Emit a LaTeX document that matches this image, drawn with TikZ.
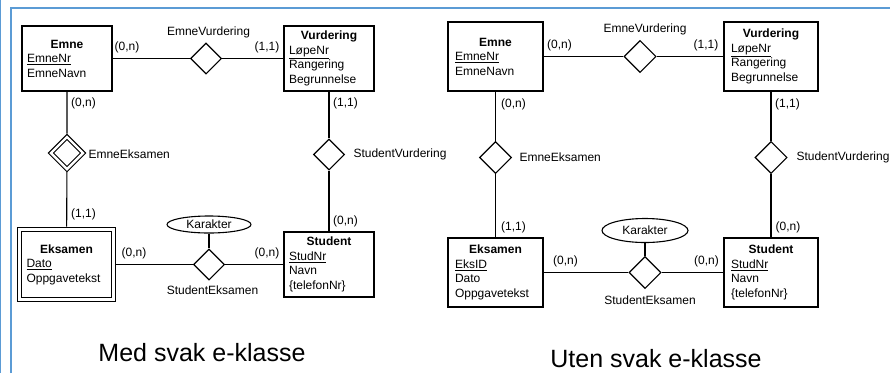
\documentclass[tikz,border=0pt]{standalone}
\usepackage{fontspec}
\setmainfont{Liberation Sans}
\usetikzlibrary{shapes.geometric}
\definecolor{frameblue}{RGB}{91,155,213}
\newcommand{\etit}[1]{\makebox[\linewidth]{\textbf{#1}}}
\tikzset{
  ent/.style 2 args={draw,rectangle,align=left,inner ysep=0pt,inner xsep=5pt,text width=80pt,minimum width=#1,minimum height=#2},
  weakent/.style={ent={94.5pt}{70.5pt},inner xsep=7.25pt,double,double distance=3.2pt,outer sep=2.7pt},
  rel/.style={draw,diamond,inner sep=0pt,minimum width=31pt,minimum height=31pt},
  weakrel/.style={rel,double,double distance=2.4pt,minimum width=34pt,minimum height=34pt,outer sep=2.3pt},
  attr/.style={draw,ellipse,inner sep=0pt},
  card/.style={inner sep=0pt},
  lbl/.style={inner sep=0pt},
  heading/.style={inner sep=0pt,font=\fontsize{25}{28}\selectfont}
}
\begin{document}
\begin{tikzpicture}[x=1pt,y=-1pt,line width=1.1pt,font=\fontsize{12}{14.5}\selectfont]
\useasboundingbox (0,0) rectangle (890,373);
% frame
\draw[frameblue,line width=1pt] (0.5,0)--(0.5,373);
\draw[frameblue,line width=2pt] (11,373)--(11,8)--(890,8);

% med svak e-klasse
\node[ent={90pt}{65pt}] (emneA) at (67,58.5) {\etit{Emne}\\\underline{EmneNr}\\EmneNavn};
\node[ent={90pt}{65pt}] (vurdA) at (329,58.5) {\etit{Vurdering}\\\underline{LøpeNr}\\Rangering\\Begrunnelse};
\node[weakent] (eksA) at (66.5,264.5) {\etit{Eksamen}\\\underline{Dato}\\Oppgavetekst};
\node[ent={90pt}{65pt}] (studA) at (329,264.5) {\etit{Student}\\\underline{StudNr}\\Navn\\\{telefonNr\}};
\node[rel] (evA) at (206,58.5) {};\node[weakrel] (eeA) at (67,153) {};
\node[rel] (svA) at (329,154.5) {};\node[rel] (seA) at (209,264.5) {};
\node[attr,minimum width=84pt,minimum height=17pt] (karA) at (209,224.5) {Karakter};
\draw (emneA)--(evA)--(vurdA);\draw (emneA)--(eeA)--(eksA);\draw (vurdA)--(svA)--(studA);
\draw (eksA)--(seA)--(studA);\draw (karA)--(seA);
\node[lbl] (evAl) at (208.5,32) {EmneVurdering};\node[lbl,anchor=west] (eeAl) at (88,154) {EmneEksamen};
\node[lbl,anchor=west] (svAl) at (353,154) {StudentVurdering};\node[lbl] (seAl) at (212.5,290) {StudentEksamen};
\node[card] (cA1) at (127,47) {(0,n)};\node[card] (cA2) at (267,47) {(1,1)};
\node[card] (cA3) at (83.5,103) {(0,n)};\node[card] (cA4) at (345.5,103) {(1,1)};
\node[card] (cA5) at (83.5,214) {(1,1)};\node[card] (cA6) at (345.5,221) {(0,n)};
\node[card] (cA7) at (134,253) {(0,n)};\node[card] (cA8) at (267,253) {(0,n)};
\node[heading] (tA) at (202,353) {Med svak e-klasse};

% uten svak e-klasse
\node[ent={95pt}{69pt},inner xsep=7pt,text width=81pt] (emneB) at (495.5,56.5) {\etit{Emne}\\\underline{EmneNr}\\EmneNavn};
\node[ent={94pt}{69pt},inner xsep=7pt,text width=80pt] (vurdB) at (771,56.5) {\etit{Vurdering}\\\underline{LøpeNr}\\Rangering\\Begrunnelse};
\node[ent={95pt}{69pt},inner xsep=7pt,text width=81pt] (eksB) at (495.5,272.5) {\etit{Eksamen}\\\underline{EksID}\\Dato\\Oppgavetekst};
\node[ent={94pt}{69pt},inner xsep=7pt,text width=80pt] (studB) at (771,272.5) {\etit{Student}\\\underline{StudNr}\\Navn\\\{telefonNr\}};
\node[rel,minimum width=32pt,minimum height=32pt] (evB) at (640,56.5) {};\node[rel,minimum width=32pt,minimum height=32pt] (eeB) at (495.5,157.5) {};
\node[rel,minimum width=32pt,minimum height=32pt] (svB) at (771,157.5) {};\node[rel,minimum width=32pt,minimum height=32pt] (seB) at (645,272.5) {};
\node[attr,minimum width=86pt,minimum height=24pt] (karB) at (645,230.5) {Karakter};
\draw (emneB)--(evB)--(vurdB);\draw (emneB)--(eeB)--(eksB);\draw (vurdB)--(svB)--(studB);
\draw (eksB)--(seB)--(studB);\draw (karB)--(seB);
\node[lbl] (evBl) at (645,29) {EmneVurdering};\node[lbl,anchor=west] (eeBl) at (519,157) {EmneEksamen};
\node[lbl,anchor=west] (svBl) at (796,157) {StudentVurdering};\node[lbl] (seBl) at (650,300) {StudentEksamen};
\node[card] (cB1) at (559.5,45) {(0,n)};\node[card] (cB2) at (706,45) {(1,1)};
\node[card] (cB3) at (513.5,104) {(0,n)};\node[card] (cB4) at (787.5,104) {(1,1)};
\node[card] (cB5) at (513.5,227) {(1,1)};\node[card] (cB6) at (788,227) {(0,n)};
\node[card] (cB7) at (565.5,261) {(0,n)};\node[card] (cB8) at (706.5,261) {(0,n)};
\node[heading] (tB) at (656,358.5) {Uten svak e-klasse};
\end{tikzpicture}
\end{document}
